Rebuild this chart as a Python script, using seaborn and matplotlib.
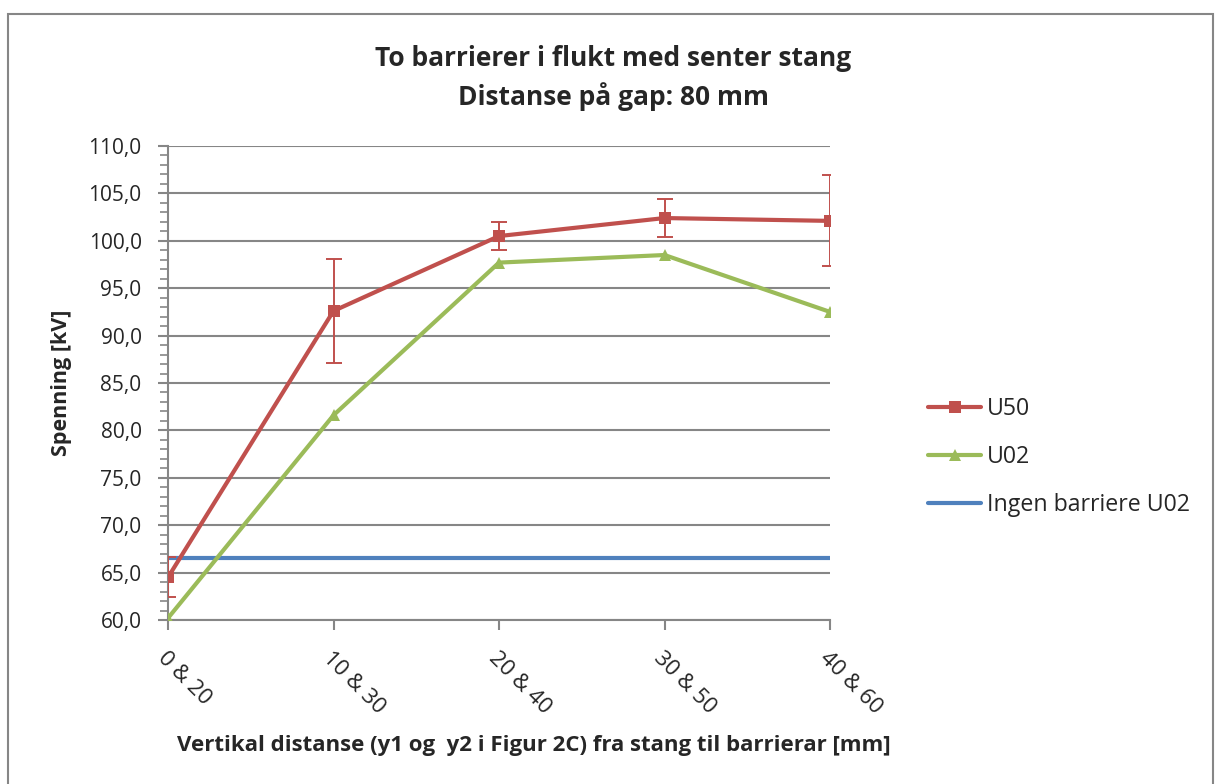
import numpy as np
import pandas as pd
import matplotlib
matplotlib.use("Agg")
import matplotlib.pyplot as plt
import matplotlib.patches as mpatches
from matplotlib.ticker import MultipleLocator, FuncFormatter
import seaborn as sns

# Data
categories = ["0 & 20", "10 & 30", "20 & 40", "30 & 50", "40 & 60"]
u50 = [64.5, 92.6, 100.5, 102.4, 102.1]
u50_err = [2.1, 5.5, 1.5, 2.0, 4.8]
u02 = [60.2, 81.6, 97.7, 98.5, 92.5]
ingen_u02 = [66.5, 66.5, 66.5, 66.5, 66.5]

title_text = "To barrierer i flukt med senter stang\nDistanse på gap: 80 mm"
xlabel_text = "Vertikal distanse (y1 og  y2 i Figur 2C) fra stang til barrierar [mm]"
ylabel_text = "Spenning [kV]"

RED = "#C0504D"
GREEN = "#9BBB59"
BLUE = "#4F81BD"
GRID = "#868686"

sns.set_theme(style="white")
plt.rcParams["font.family"] = ["Open Sans", "DejaVu Sans"]

W, H = 1215, 784
fig = plt.figure(figsize=(W / 100, H / 100), dpi=100)
ax = fig.add_axes([168 / W, 1 - 620 / H, 662 / W, 474 / H])

pos = np.arange(len(categories))
df = pd.DataFrame({"pos": pos, "U50": u50, "U02": u02, "Ingen": ingen_u02})

sns.lineplot(data=df, x="pos", y="U50", ax=ax, color=RED, lw=3, marker="s",
             markersize=8, markeredgewidth=0, label="U50", zorder=4)
sns.lineplot(data=df, x="pos", y="U02", ax=ax, color=GREEN, lw=3, marker="^",
             markersize=9, markeredgewidth=0, label="U02", zorder=3)
sns.lineplot(data=df, x="pos", y="Ingen", ax=ax, color=BLUE, lw=3,
             label="Ingen barriere U02", zorder=2)
ax.errorbar(pos, u50, yerr=u50_err, fmt="none", ecolor=RED, elinewidth=1.4,
            capsize=6, capthick=1.4, zorder=5)

ax.set_xlim(0, 4)
ax.set_ylim(60, 110)
ax.yaxis.set_major_locator(MultipleLocator(5))
ax.yaxis.set_minor_locator(MultipleLocator(1))
ax.yaxis.set_major_formatter(FuncFormatter(lambda v, p: f"{v:.1f}".replace(".", ",")))
ax.grid(axis="y", which="major", color=GRID, lw=1.5)
ax.grid(axis="x", visible=False)
ax.set_axisbelow(True)

ax.set_xticks(pos)
ax.set_xticklabels(categories, rotation=-45, ha="left", va="top",
                   rotation_mode="anchor", fontsize=16)
ax.tick_params(axis="x", length=7, width=1.5, color=GRID, direction="out",
               pad=13, bottom=True)
ax.tick_params(axis="y", which="major", length=7, width=1.5, color=GRID,
               direction="out", labelsize=15, pad=12, left=True)
ax.tick_params(axis="y", which="minor", length=6, width=1.2, color=GRID,
               direction="out", left=True)

for s in ["top", "right"]:
    ax.spines[s].set_visible(False)
for s in ["left", "bottom"]:
    ax.spines[s].set_color(GRID)
    ax.spines[s].set_linewidth(1.5)

ax.set_xlabel("")
ax.set_ylabel(ylabel_text, fontsize=15.5, fontweight="bold")
ax.yaxis.set_label_coords((72 - 168) / 662, 0.5)

fig.text(613 / W, 1 - 78 / H, title_text, ha="center", va="center",
         fontsize=19, fontweight="bold", linespacing=1.4)
fig.text(534 / W, 1 - 745 / H, xlabel_text, ha="center", va="center",
         fontsize=16, fontweight="bold")

handles, labels = ax.get_legend_handles_labels()
if ax.legend_:
    ax.legend_.remove()
fig.legend(handles, labels, loc="upper left",
           bbox_to_anchor=(928 / W, 1 - 397 / H), frameon=False,
           fontsize=16.7, handlelength=2.3, handletextpad=0.25,
           labelspacing=1.03, borderpad=0, borderaxespad=0)

fig.patches.append(mpatches.Rectangle((8 / W, -0.05), (1213 - 8) / W,
                                      1.05 - 14 / H, transform=fig.transFigure,
                                      fill=False, edgecolor=GRID, lw=1.5))

fig.savefig("out.png", dpi=100)
